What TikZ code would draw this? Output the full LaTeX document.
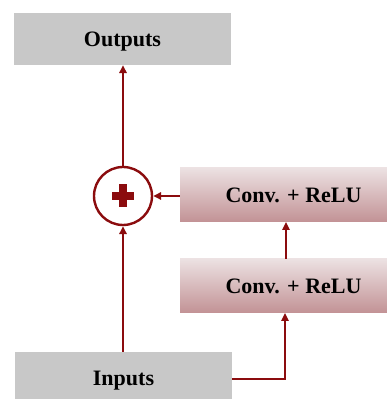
\documentclass[tikz,border=0pt]{standalone}
\usepackage{fontspec}
\setmainfont{Liberation Serif}
\usetikzlibrary{arrows.meta}
\definecolor{dred}{RGB}{139,12,14}
\definecolor{boxgrey}{RGB}{200,200,200}
\definecolor{ctop}{RGB}{236,225,226}
\definecolor{cbot}{RGB}{194,146,149}
\begin{document}
\begin{tikzpicture}[x=1pt,y=1pt,
  greybox/.style={fill=boxgrey,draw=none,minimum width=217pt,minimum height=52pt,inner sep=0pt,text depth=0pt,font=\fontsize{22}{26}\selectfont\bfseries},
  convbox/.style={top color=ctop,bottom color=cbot,draw=none,minimum width=227pt,minimum height=54pt,inner sep=0pt,text depth=0pt,font=\fontsize{22}{26}\selectfont\bfseries},
  conn/.style={draw=dred,line width=1.6pt,-{Triangle[length=8pt,width=7.5pt]}},
  sumnode/.style={circle,draw=dred,line width=2.4pt,minimum size=58pt,inner sep=0pt,fill=white}]
\useasboundingbox (0,0) rectangle (386,399);
\node[greybox] (out) at (122.5,360) {Outputs};
\node[greybox] (in) at (123.5,21) {Inputs};
\node[convbox] (c1) at (293.5,204) {Conv. + ReLU};
\node[convbox] (c2) at (293.5,113) {Conv. + ReLU};
\node[sumnode] (sum) at (123,203) {};
\fill[dred] ([xshift=-11pt,yshift=-4pt]sum.center) rectangle ([xshift=11pt,yshift=4pt]sum.center);
\fill[dred] ([xshift=-4pt,yshift=-11.5pt]sum.center) rectangle ([xshift=4pt,yshift=11.5pt]sum.center);
\coordinate (c2t) at (286,140);
\coordinate (c1b) at (286,177);
\coordinate (c2b) at (285,86);
\coordinate (ine) at (232,20);
\draw[conn] (sum.north) -- (out.south -| sum.north);
\draw[conn] (c1.west |- sum.east) -- (sum.east);
\draw[conn] (c2t) -- (c1b);
\draw[conn] (in.north -| sum.south) -- (sum.south);
\draw[conn] (ine) -| (c2b);
\end{tikzpicture}
\end{document}
